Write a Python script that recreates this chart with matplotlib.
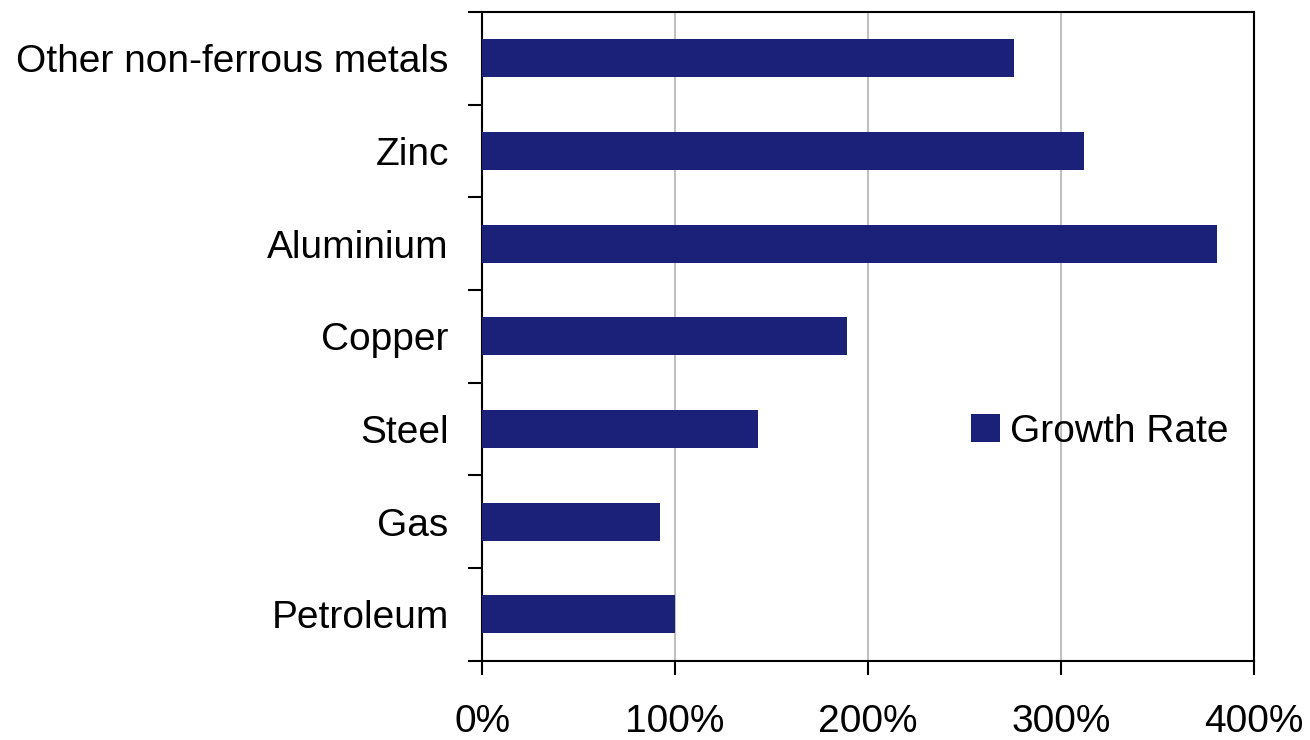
import numpy as np
import matplotlib.pyplot as plt
from matplotlib.ticker import FuncFormatter, FixedLocator

categories = ['Petroleum', 'Gas', 'Steel', 'Copper', 'Aluminium', 'Zinc',
              'Other non-ferrous metals']
growth_rate = [100, 92, 143, 189, 381, 312, 276]

plt.rcParams['font.family'] = ['Liberation Sans', 'DejaVu Sans']

fig = plt.figure(figsize=(13.1, 7.4), dpi=100)
ax = fig.add_axes([0.368, 0.107, 0.589, 0.877])

y = np.arange(len(categories))
ax.barh(y, growth_rate, height=0.41, color='#1B2079', label='Growth Rate', zorder=3)

ax.set_xlim(0, 400)
ax.set_ylim(-0.5, len(categories) - 0.5)
ax.set_xticks([0, 100, 200, 300, 400])
ax.xaxis.set_major_formatter(FuncFormatter(lambda v, p: f'{v:.0f}%'))
ax.xaxis.grid(True, color='#C0C0C0', linewidth=1.5, zorder=0)

ax.set_yticks(y)
ax.set_yticklabels(categories)
ax.yaxis.set_minor_locator(FixedLocator(np.arange(-0.5, len(categories), 1.0)))
ax.tick_params(axis='y', which='major', length=0, pad=24, labelsize=28)
ax.tick_params(axis='y', which='minor', length=10, width=1.5, direction='out')
ax.tick_params(axis='x', which='major', length=10, width=1.5, direction='out',
               pad=21, labelsize=28)

for s in ax.spines.values():
    s.set_linewidth(1.5)
    s.set_color('black')

ax.legend(loc='center left', bbox_to_anchor=(0.634, 0.353), frameon=False,
          fontsize=28, handlelength=0.73, handleheight=0.73, handletextpad=0.27,
          borderpad=0, borderaxespad=0)

fig.savefig('out.png', dpi=100)
